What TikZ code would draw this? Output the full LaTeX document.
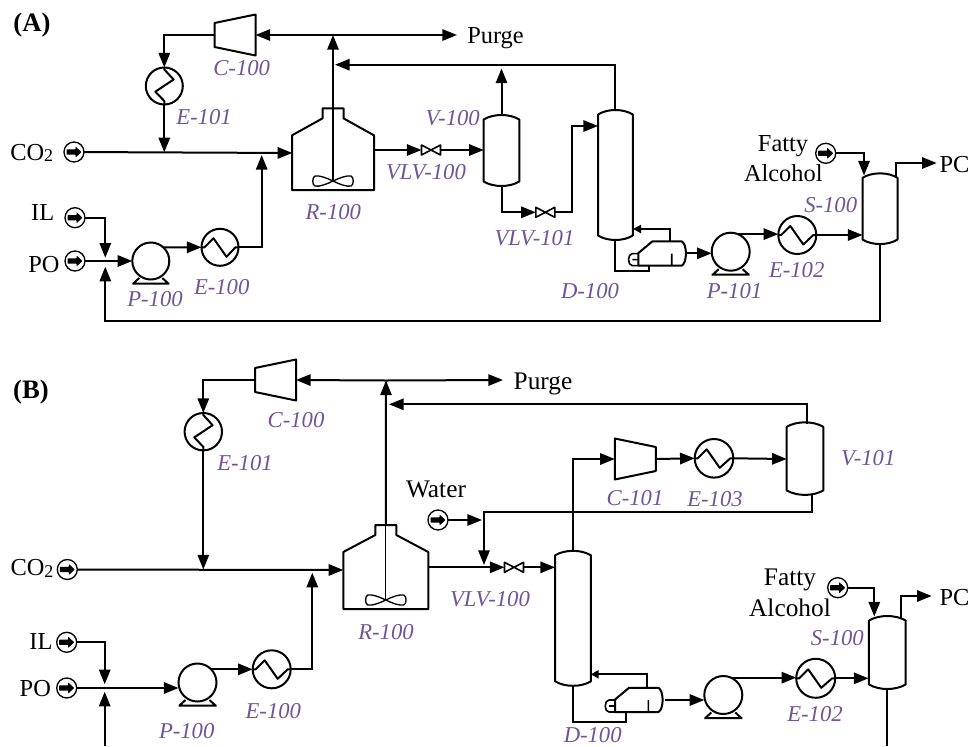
\documentclass[tikz,border=0pt]{standalone}
\usepackage{fontspec}
\setmainfont{Liberation Serif}
\usetikzlibrary{arrows.meta,calc}

\definecolor{tagpurple}{RGB}{112,84,152}

\tikzset{every picture/.style={line width=1.5pt},
  pipe/.style={line join=miter,-{Triangle[length=11pt,width=8.5pt]}},
  rawpipe/.style={line join=miter},
  smallpipe/.style={-{Triangle[length=6pt,width=6pt]}},
  unit/.style={line width=1.5pt,line join=round},
  thinunit/.style={line width=1pt,line join=round},
  ghost/.style={inner sep=0pt,outer sep=0pt,rectangle},
  ball/.style={draw,circle,inner sep=0pt,outer sep=0pt,line width=1.5pt},
  feedball/.style={draw,circle,inner sep=0pt,outer sep=0pt,line width=1pt,minimum size=15pt},
  tag/.style={font=\fontsize{17}{17}\selectfont\itshape,text=tagpurple,inner sep=0pt},
  word/.style={font=\fontsize{18.3}{18.3}\selectfont,inner sep=0pt},
  bigword/.style={font=\fontsize{19}{19}\selectfont,inner sep=0pt},
  panel/.style={font=\fontsize{20}{20}\selectfont\bfseries,inner sep=0pt}}

%Shape: Feed
\newcommand{\feedunit}[3]{
\node[feedball] (#1) at (#2,#3) {};
\fill[shift={(#1.center)},rounded corners=0.4pt] (-7.5,-2.6) -- (1.5,-2.6) -- (1.5,-5.6) -- (7.5,0) -- (1.5,5.6) -- (1.5,2.6) -- (-7.5,2.6) -- cycle;
}
%Shape: Pump
\newcommand{\pumpunit}[4]{
\node[ball,minimum size=#4*1.5pt] (#1) at (#2,#3) {};
\draw[unit,shift={(#1.center)}] (-#4,#4+4) -- (#4,#4+4) (-#4+1,#4+4) -- (-#4+7,#4-1.5) (#4-1,#4+4) -- (#4-7,#4-1.5);
}
%Shape: Exchanger, zigzag runs left to right
\newcommand{\heatunit}[4]{
\node[ball,minimum size=#4*1.5pt] (#1) at (#2,#3) {};
\draw[unit,shift={(#1.center)}] (-#4,0) -- (-#4+3,0) -- (-#4+12,-9) -- (-#4+25,9.5) -- (#4-3,0) -- (#4,0);
}
%Shape: Exchanger, zigzag runs top to bottom
\newcommand{\coolunit}[4]{
\node[ball,minimum size=#4*1.5pt] (#1) at (#2,#3) {};
\draw[unit,shift={(#1.center)}] (0,-#4) -- (0,-#4+2) -- (9.3,-6.5) -- (-9,5.7) -- (0,#4-3.5) -- (0,#4);
}
%Shape: Drum with domed ends
\newcommand{\drumunit}[5]{
\node[ghost,minimum width=#4*0.75pt,minimum height=#5*0.75pt] (#1) at (#2,#3) {};
\draw[unit] ($(#1.north west)+(0,4.5)$) .. controls ($(#1.north)+(-8,-1.5)$) and ($(#1.north)+(8,-1.5)$) .. ($(#1.north east)+(0,4.5)$) -- ($(#1.south east)+(0,-4.5)$) .. controls ($(#1.south)+(8,1.5)$) and ($(#1.south)+(-8,1.5)$) .. ($(#1.south west)+(0,-4.5)$) -- cycle;
}
%Shape: Reactor with stirrer
\newcommand{\reactorunit}[5]{
\node[ghost,minimum width=#4*0.75pt,minimum height=#5*0.75pt] (#1) at (#2,#3) {};
\draw[unit] (#1.south west) -- ($(#1.north west)+(0,27)$) -- ($(#1.north)+(-10.5,10)$) -- ($(#1.north)+(-10.5,0)$) -- ($(#1.north)+(10.5,0)$) -- ($(#1.north)+(10.5,10)$) -- ($(#1.north east)+(0,27)$) -- (#1.south east) -- cycle;
\draw[thinunit] (#1.north) -- ($(#1.south)+(0,-9)$);
\draw[thinunit,shift={($(#1.south)+(0,-9)$)}] (0,0) .. controls (-6,-3) and (-14,-6) .. (-18,-5) .. controls (-21,-4) and (-21,4) .. (-18,5) .. controls (-14,6) and (-6,3) .. (0,0) .. controls (6,-3) and (14,-6) .. (18,-5) .. controls (21,-4) and (21,4) .. (18,5) .. controls (14,6) and (6,3) .. (0,0);
}
%Shape: Compressor, #4 is 1 for the tall side on the right and -1 on the left
\newcommand{\compunit}[4]{
\node[ghost,minimum width=30.75pt,minimum height=30.75pt] (#1) at (#2,#3) {};
\draw[unit,shift={(#1.center)}] (-#4*20.5,-12) -- (#4*20.5,-20.5) -- (#4*20.5,20.5) -- (-#4*20.5,12) -- cycle;
}
%Shape: Valve
\newcommand{\valveunit}[3]{
\node[ghost,minimum width=14.25pt,minimum height=7.5pt] (#1) at (#2,#3) {};
\draw[unit,line width=1.2pt] (#1.north west) -- (#1.south east) -- (#1.north east) -- (#1.south west) -- cycle;
}
%Shape: Kettle reboiler
\newcommand{\reboilunit}[3]{
\node[ghost,minimum width=44.25pt,minimum height=18.4pt] (#1) at (#2,#3) {};
\draw[unit,shift={(#1.center)}] (-20,-0.5) -- (-6,-12.2) -- (23.5,-12.2) .. controls (29,-9) and (29,9) .. (23.5,12) -- (-20,12) -- cycle;
\draw[unit,line width=1.2pt,shift={(#1.center)}] (-20,0) -- (-26,0) .. controls (-31,0) and (-31,12) .. (-26,12) -- (-20,12) (-26,6) -- (-20,6) (13.4,0) -- (13.4,12);
}

\begin{document}
\begin{tikzpicture}[x=0.75pt,y=0.75pt,yscale=-1,xscale=1]
\useasboundingbox (0,0) rectangle (969,746);

%Panel A: equipment
\node[panel] (panelA) at (32,25.5) {(A)};
\compunit{C100}{235}{35}{1}
\coolunit{E101}{164.3}{86}{18.5}
\reactorunit{R100}{333}{149.2}{82}{81.7}
\drumunit{V100}{501.5}{150.5}{35.6}{71}
\valveunit{VLV100}{431}{150}
\valveunit{VLV101}{545.3}{212.3}
\drumunit{D100}{615.4}{175}{34.7}{130}
\reboilunit{Rb100}{658.3}{253.6}
\pumpunit{P100}{150.8}{261}{18.5}
\heatunit{E100}{220}{247.3}{18.5}
\pumpunit{P101}{730.7}{251.7}{19}
\heatunit{E102}{797.3}{235}{19}
\drumunit{S100}{880}{208.7}{35}{70.7}
\feedunit{FeedCOa}{74}{152}
\feedunit{FeedILa}{75}{217.7}
\feedunit{FeedPOa}{75}{261}
\feedunit{FeedFAa}{825.7}{153.3}

%Panel A: free ends and junctions
\coordinate (JnPurge) at (333,35);
\coordinate (TipPurge) at (457,35);
\coordinate (TipRecyc) at (335,64.7);
\coordinate (JnCool) at (164.3,152.3);
\coordinate (JnHeat) at (261.7,155);
\coordinate (InR) at (292.3,153);
\coordinate (OutR) at (374,150);
\coordinate (InV) at (483.7,150);
\coordinate (TipV) at (501.5,68.5);
\coordinate (InD) at (598,126);
\coordinate (InS) at (862.5,235);
\coordinate (TopS) at (896,177);
\coordinate (TipPC) at (936.7,163);
\coordinate (TipFA) at (864,175.5);
\coordinate (RbVap) at (670,241.7);
\coordinate (RbDrain) at (649,265.5);
\coordinate (TipRb) at (633,229);
\coordinate (RbOut) at (686.8,253.3);

%Panel A: streams
\draw[pipe] (C100.west) -| (E101.north);
\draw[pipe] (E101.south) -- (JnCool);
\draw[pipe] (FeedCOa) -- (InR);
\draw[pipe] (JnPurge) -- (C100.east);
\draw[pipe] (JnPurge) -- (TipPurge);
\draw[pipe] (R100.north) -- (JnPurge);
\draw[pipe] (D100.north) |- (TipRecyc);
\draw[pipe] (OutR) -- (VLV100.west);
\draw[pipe] (VLV100.east) -- (InV);
\draw[pipe] (V100.north) -- (TipV);
\draw[pipe] (V100.south) |- (VLV101.west);
\draw[pipe] (VLV101.east) -| (572,126) -- (InD);
\draw[rawpipe] (D100.south) |- (649,271) -- (RbDrain);
\draw[smallpipe] (RbVap) |- (TipRb);
\draw[pipe] (RbOut) -- (RbOut -| P101.west);
\draw[pipe] (P101.68) -- (P101.68 -| E102.west);
\draw[pipe] (E102.east) -- (InS);
\draw[pipe] (TopS) |- (TipPC);
\draw[pipe] (FeedFAa) -| (TipFA);
\draw[pipe] (S100.south) |- (105.3,321) -- (105.3,266.7);
\draw[pipe] (FeedILa) -| (105.3,257.7);
\draw[pipe] (FeedPOa) -- (P100.west);
\draw[pipe] (P100.48) -- (E100.west);
\draw[pipe] (E100.east) -| (JnHeat);

%Panel A: labels
\node[word] (NameCOa) at (31.7,153) {CO\raisebox{-1pt}{\fontsize{13.5}{13.5}\selectfont 2}};
\node[word] (NameILa) at (42.7,213) {IL};
\node[word] (NamePOa) at (44,264.5) {PO};
\node[word] (NamePurgeA) at (495.5,38) {Purge};
\node[word] (NameFattyA) at (783,146) {Fatty};
\node[word] (NameAlcA) at (783.3,173) {Alcohol};
\node[word] (NamePCa) at (954.5,164.5) {PC};
\node[tag] (TagC100) at (241.7,68.3) {C-100};
\node[tag] (TagE101) at (204,116.7) {E-101};
\node[tag] (TagR100) at (333.3,212.3) {R-100};
\node[tag] (TagP100) at (155,299.3) {P-100};
\node[tag] (TagE100) at (221.7,286.7) {E-100};
\node[tag] (TagV100) at (452.7,118.3) {V-100};
\node[tag] (TagVLV100) at (426,172) {VLV-100};
\node[tag] (TagVLV101) at (534.5,238.3) {VLV-101};
\node[tag] (TagD100) at (590,290.7) {D-100};
\node[tag] (TagP101) at (734.5,290.7) {P-101};
\node[tag] (TagE102) at (796.7,270) {E-102};
\node[tag] (TagS100) at (830.7,205) {S-100};

%Panel B: equipment
\node[panel] (panelB) at (31,392) {(B)};
\compunit{bC100}{275.5}{380}{1}
\coolunit{bE101}{203.3}{431.7}{18.7}
\reactorunit{bR100}{385.8}{567}{85}{84}
\valveunit{bVLV100}{514}{567.3}
\drumunit{bD100}{573}{618.3}{35.8}{135}
\reboilunit{bRb100}{635}{700}
\pumpunit{bP100}{197.5}{682.5}{19}
\heatunit{bE100}{271.7}{669.3}{19}
\pumpunit{bP101}{723.3}{695}{19}
\heatunit{bE102}{815.7}{678.3}{19.5}
\compunit{bC101}{635.3}{459}{-1}
\heatunit{bE103}{714}{458.3}{19.3}
\drumunit{bV101}{805}{458.6}{36.6}{72.6}
\drumunit{bS100}{887.3}{652.5}{36.7}{73}
\feedunit{FeedCOb}{67.3}{569.5}
\feedunit{FeedILb}{66.7}{642.3}
\feedunit{FeedPOb}{66.7}{688}
\feedunit{FeedWAb}{438}{520}
\feedunit{FeedFAb}{837.7}{587.7}

%Panel B: free ends and junctions
\coordinate (bJnPurge) at (386,380.5);
\coordinate (bTipPurge) at (503,380);
\coordinate (bTipRecyc) at (389,404.3);
\coordinate (bJnCool) at (203.3,569.5);
\coordinate (bJnHeat) at (312.3,572.7);
\coordinate (bInR) at (343.3,570);
\coordinate (bOutR) at (428.3,567.3);
\coordinate (bInD) at (555,567.3);
\coordinate (bTopD) at (572.8,551);
\coordinate (bInV) at (786.7,459);
\coordinate (bTopV) at (806.7,424);
\coordinate (bBotV) at (811.7,494);
\coordinate (bInS) at (868.5,678.3);
\coordinate (bTopS) at (900.7,618);
\coordinate (bTipPC) at (931.7,596);
\coordinate (bTipFA) at (874.3,616.5);
\coordinate (bRbVap) at (647.3,687.7);
\coordinate (bDrain) at (626,712);
\coordinate (bTipRb) at (590.7,674.3);
\coordinate (bRbOut) at (664.5,700);
\coordinate (bWater) at (482,520);
\coordinate (bTipWater) at (484,565);

%Panel B: streams
\draw[pipe] (bC100.west) -| (bE101.north);
\draw[pipe] (bE101.south) -- (bJnCool);
\draw[pipe] (FeedCOb) -- (bInR);
\draw[pipe] (bJnPurge) -- (bC100.east);
\draw[pipe] (bJnPurge) -- (bTipPurge);
\draw[pipe] (bR100.north) -- (bJnPurge);
\draw[pipe] (bTopV) |- (bTipRecyc);
\draw[pipe] (bOutR) -- (bVLV100.west);
\draw[pipe] (bVLV100.east) -- (bInD);
\draw[pipe] (bTopD) |- (bC101.west);
\draw[pipe] (bC101.east) -- (bE103.west);
\draw[pipe] (bE103.east) -- (bInV);
\draw[pipe] (bBotV) |- (484,512.3) -- (bTipWater);
\draw[pipe] (FeedWAb) -- (bWater);
\draw[rawpipe] (bD100.south) |- (626,722.3) -- (bDrain);
\draw[smallpipe] (bRbVap) |- (bTipRb);
\draw[pipe] (bRbOut) -- (bRbOut -| bP101.west);
\draw[pipe] (bP101.66) -- (bP101.66 -| bE102.west);
\draw[pipe] (bE102.east) -- (bInS);
\draw[pipe] (bTopS) |- (bTipPC);
\draw[pipe] (FeedFAb) -| (bTipFA);
\draw[rawpipe] (bS100.south) -- (887.3,746);
\draw[pipe] (FeedILb) -| (104.7,684.3);
\draw[pipe] (104.7,746) -- (104.7,691.7);
\draw[pipe] (FeedPOb) -- (FeedPOb -| bP100.west);
\draw[pipe] (bP100.44) -- (bP100.44 -| bE100.west);
\draw[pipe] (bE100.east) -| (bJnHeat);

%Panel B: labels
\node[word] (NameCOb) at (32,568.3) {CO\raisebox{-1pt}{\fontsize{13.5}{13.5}\selectfont 2}};
\node[word] (NameILb) at (41,641.7) {IL};
\node[word] (NamePOb) at (35.3,688.3) {PO};
\node[bigword] (NamePurgeB) at (543,384) {Purge};
\node[bigword] (NameWater) at (436,489.3) {Water};
\node[bigword] (NameFattyB) at (790,579.5) {Fatty};
\node[bigword] (NameAlcB) at (790,607.7) {Alcohol};
\node[word] (NamePCb) at (954.5,598) {PC};
\node[tag] (bTagC100) at (296,420) {C-100};
\node[tag] (bTagE101) at (245,463.3) {E-101};
\node[tag] (bTagR100) at (386,632.3) {R-100};
\node[tag] (bTagP100) at (186.7,730.7) {P-100};
\node[tag] (bTagE100) at (273.3,710.7) {E-100};
\node[tag] (bTagVLV100) at (490,599) {VLV-100};
\node[tag] (bTagC101) at (635,497.7) {C-101};
\node[tag] (bTagE103) at (715,499) {E-103};
\node[tag] (bTagV101) at (868.3,458.3) {V-101};
\node[tag] (bTagD100) at (592.7,735) {D-100};
\node[tag] (bTagE102) at (815,714) {E-102};
\node[tag] (bTagS100) at (837.3,638.3) {S-100};

\end{tikzpicture}
\end{document}
